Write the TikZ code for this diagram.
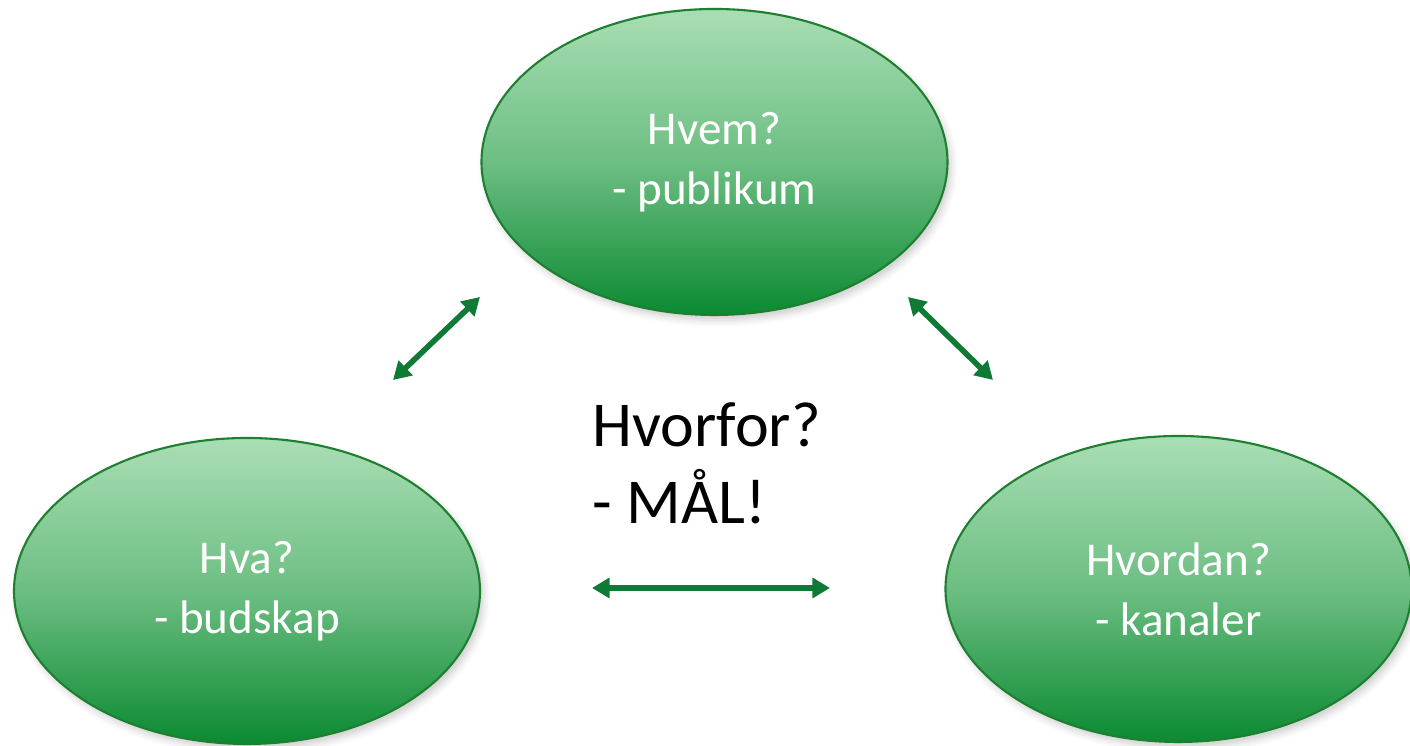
\documentclass[tikz,border=0pt]{standalone}
\usepackage{fontspec}
\setmainfont{Carlito}
\usetikzlibrary{arrows.meta,shapes.geometric,shadows.blur}
\definecolor{lysgronn}{HTML}{A9DEB4}
\definecolor{morkgronn}{HTML}{0B8A32}
\definecolor{kantgronn}{HTML}{1E7F30}
\definecolor{pilgronn}{HTML}{0E7A35}
\begin{document}
\begin{tikzpicture}[
	boble/.style={ellipse,draw=kantgronn,line width=0.6pt,top color=lysgronn,bottom color=morkgronn,
		middle color=lysgronn!62!morkgronn,
		minimum width=4.66cm,minimum height=3.06cm,inner sep=0pt,text=white,align=center,
		font=\fontsize{13.4}{17}\selectfont,
		blur shadow={shadow xshift=1pt,shadow yshift=-1.5pt,shadow opacity=20,shadow blur radius=2pt}},
	pil/.style={draw=pilgronn,line width=1.6pt,{Triangle[length=5pt,width=5.6pt]}-{Triangle[length=5pt,width=5.6pt]}}]
	\useasboundingbox (0,0) rectangle (14.1,7.46);
	\node[boble] (hvem) at (7.145,5.84) {Hvem?\\- publikum};
	\node[boble] (hva) at (2.47,1.55) {Hva?\\- budskap};
	\node[boble] (hvordan) at (11.785,1.57) {Hvordan?\\- kanaler};
	\node[anchor=north west,inner sep=0pt,align=left,font=\fontsize{18.2}{21.8}\selectfont] (hvorfor) at (5.92,3.44) {Hvorfor?\\- MÅL!};
	% frie pilender
	\coordinate (v1) at (3.93,3.66);
	\coordinate (v2) at (4.80,4.49);
	\coordinate (h1) at (9.08,4.49);
	\coordinate (h2) at (9.93,3.66);
	\coordinate (m1) at (5.92,1.58);
	\coordinate (m2) at (8.30,1.58);
	\draw[pil] (v1) -- (v2);
	\draw[pil] (h1) -- (h2);
	\draw[pil] (m1) -- (m2);
\end{tikzpicture}
\end{document}
